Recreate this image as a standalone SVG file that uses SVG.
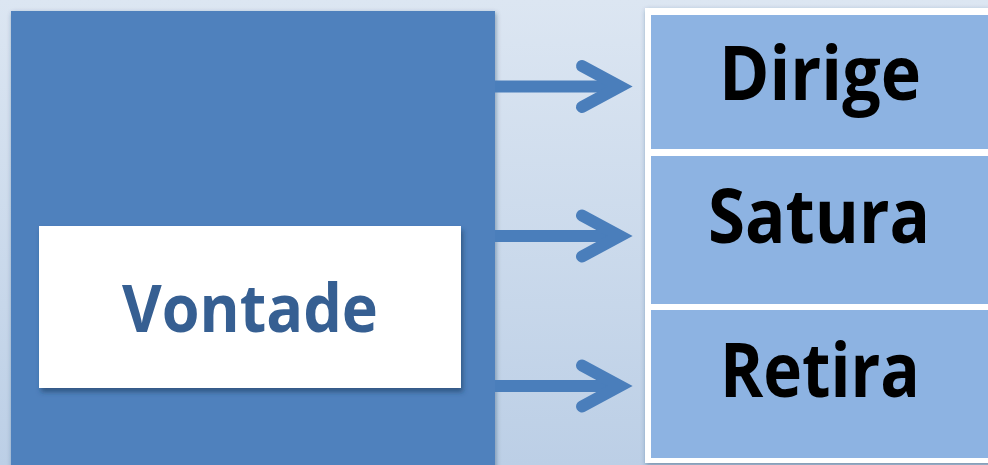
<svg xmlns="http://www.w3.org/2000/svg" width="988" height="465" viewBox="0 0 988 465">
  <defs>
    <linearGradient id="bg" x1="0" y1="0" x2="0" y2="1">
      <stop offset="0" stop-color="#dce6f2"/>
      <stop offset="1" stop-color="#bccfe6"/>
    </linearGradient>
    <filter id="sh" x="-10%" y="-10%" width="120%" height="120%">
      <feDropShadow dx="1" dy="2" stdDeviation="2.5" flood-color="#1f3a5f" flood-opacity="0.45"/>
    </filter>
    <filter id="sh2" x="-10%" y="-10%" width="120%" height="130%">
      <feDropShadow dx="2" dy="4" stdDeviation="2.5" flood-color="#1f3a5f" flood-opacity="0.6"/>
    </filter>
  </defs>
  <style>
    .arrow { fill: none; stroke: #4a7ebb; stroke-width: 12; stroke-linecap: round; stroke-linejoin: miter; stroke-miterlimit: 10; }
    .shaft { fill: none; stroke: #4a7ebb; stroke-width: 12; }
    .item { fill: #8db3e2; }
    .lbl { font-family: "Open Sans", "Liberation Sans", sans-serif; font-weight: bold; font-size: 76px; fill: #000; text-anchor: middle; }
  </style>
  <rect x="0" y="0" width="988" height="465" fill="url(#bg)"/>

  <g id="vontade-panel">
    <rect x="11" y="11" width="484" height="460" fill="#4f81bd" filter="url(#sh)"/>
  </g>

  <g id="vontade">
    <rect x="39" y="226" width="422" height="162" fill="#ffffff" filter="url(#sh2)"/>
    <text x="250" y="332" font-family="Open Sans, Liberation Sans, sans-serif" font-weight="bold" font-size="67" fill="#365f92" text-anchor="middle" textLength="256" lengthAdjust="spacingAndGlyphs">Vontade</text>
  </g>

  <g id="connectors">
    <line class="shaft" x1="495" y1="86.5" x2="614" y2="86.5"/>
    <polyline class="arrow" points="582,66 620,86.5 582,107"/>
    <line class="shaft" x1="495" y1="236" x2="614" y2="236"/>
    <polyline class="arrow" points="582,215.5 620,236 582,256.5"/>
    <line class="shaft" x1="495" y1="386" x2="614" y2="386"/>
    <polyline class="arrow" points="582,365.5 620,386 582,406.5"/>
  </g>

  <g id="frame">
    <rect x="645" y="8" width="350" height="455" fill="#ffffff" filter="url(#sh)"/>
  </g>

  <g id="dirige">
    <rect class="item" x="651" y="15" width="337" height="134"/>
    <text class="lbl" x="820" y="100" textLength="202" lengthAdjust="spacingAndGlyphs">Dirige</text>
  </g>

  <g id="satura">
    <rect class="item" x="651" y="156" width="337" height="148"/>
    <text class="lbl" x="819" y="243" textLength="222" lengthAdjust="spacingAndGlyphs">Satura</text>
  </g>

  <g id="retira">
    <rect class="item" x="651" y="310" width="337" height="148"/>
    <text class="lbl" x="820" y="397" textLength="200" lengthAdjust="spacingAndGlyphs">Retira</text>
  </g>
</svg>
